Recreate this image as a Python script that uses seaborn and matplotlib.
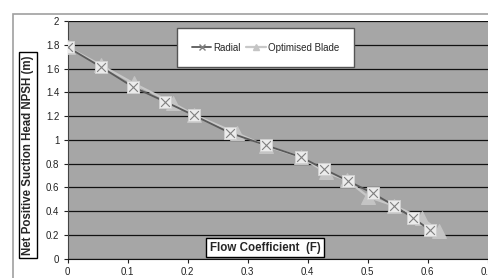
import matplotlib
matplotlib.use("Agg")
import matplotlib.pyplot as plt
from matplotlib.lines import Line2D
from matplotlib.patches import Rectangle
import seaborn as sns
import pandas as pd

radial_x = [0.0, 0.055, 0.109, 0.163, 0.211, 0.27, 0.33, 0.389, 0.428, 0.467, 0.509, 0.544, 0.575, 0.604]
radial_y = [1.78, 1.615, 1.445, 1.32, 1.205, 1.06, 0.955, 0.855, 0.752, 0.655, 0.55, 0.446, 0.345, 0.241]
blade_x = [0.0, 0.055, 0.11, 0.176, 0.211, 0.282, 0.33, 0.389, 0.43, 0.465, 0.501, 0.544, 0.59, 0.619]
blade_y = [1.78, 1.63, 1.475, 1.307, 1.21, 1.055, 0.95, 0.855, 0.727, 0.662, 0.52, 0.446, 0.34, 0.235]

radial = pd.DataFrame({"F": radial_x, "NPSH": radial_y})
blade = pd.DataFrame({"F": blade_x, "NPSH": blade_y})

sns.set_style("ticks")
plt.rcParams["font.family"] = ["Liberation Sans", "DejaVu Sans"]

fig = plt.figure(figsize=(4.89, 2.78), dpi=100)
ax = fig.add_axes([0.1384, 0.0694, 0.8616, 0.855])
ax.set_facecolor("#a6a6a6")

# outer chart frame (only top and left edges show)
fig.add_artist(Rectangle((13 / 489, -0.2), 1.2, (278 - 14) / 278 + 0.2,
                         transform=fig.transFigure, fill=False,
                         edgecolor="#a0a0a0", lw=1.2, zorder=0))

sns.lineplot(data=blade, x="F", y="NPSH", ax=ax, sort=False, estimator=None,
             color="#c8c8c8", lw=1.6, marker="^", markersize=10,
             markerfacecolor="#c4c4c4", markeredgecolor="#c4c4c4", zorder=3)
sns.lineplot(data=radial, x="F", y="NPSH", ax=ax, sort=False, estimator=None,
             color="#5a5a5a", lw=1.3, marker="s", markersize=8,
             markerfacecolor="#ececec", markeredgecolor="#d0d0d0", zorder=4)
sns.scatterplot(data=radial, x="F", y="NPSH", ax=ax, marker="x", s=40,
                color="#808080", linewidth=0.8, zorder=5)

ax.set_xlim(0, 0.7022)
ax.set_ylim(0, 2)
ax.set_xticks([0, 0.1, 0.2, 0.3, 0.4, 0.5, 0.6, 0.7])
ax.set_xticklabels(["0", "0.1", "0.2", "0.3", "0.4", "0.5", "0.6", "0.7"])
ax.set_yticks([0, 0.2, 0.4, 0.6, 0.8, 1, 1.2, 1.4, 1.6, 1.8, 2])
ax.set_yticklabels(["0", "0.2", "0.4", "0.6", "0.8", "1", "1.2", "1.4", "1.6", "1.8", "2"])
ax.tick_params(labelsize=7, length=3, width=0.8, colors="#222222", pad=3)
ax.yaxis.grid(True, color="#111111", lw=0.9)
ax.set_axisbelow(True)
for s in ["top", "right"]:
    ax.spines[s].set_visible(False)
ax.spines["left"].set_color("#444444")
ax.spines["bottom"].set_color("#111111")
ax.set_xlabel("")
ax.set_ylabel("")

box = dict(boxstyle="square,pad=0.3", fc="white", ec="black", lw=1)
fig.text(28 / 489, 1 - 155 / 278, "Net Positive Suction Head NPSH (m)",
         rotation=90, ha="center", va="center", fontsize=8.3, fontweight="bold", bbox=box)
fig.text(265 / 489, 1 - 247.5 / 278, "Flow Coefficient  (F)", fontsize=8.3,
         fontweight="bold", ha="center", va="center", bbox=box, zorder=6)

handles = [
    Line2D([], [], color="#5a5a5a", lw=1.3, marker="x", markersize=4,
           markeredgecolor="#808080"),
    Line2D([], [], color="#c8c8c8", lw=1.6, marker="^", markersize=5,
           markerfacecolor="#c4c4c4", markeredgecolor="#c4c4c4"),
]
leg = ax.legend(handles, ["Radial", "Optimised Blade"], loc="center",
                bbox_to_anchor=(0.4695, 0.8885), ncol=2, fontsize=7,
                frameon=True, fancybox=False, handlelength=2.0,
                handletextpad=0.2, columnspacing=0.6, borderpad=1.5)
leg.get_frame().set_edgecolor("#555555")
leg.get_frame().set_linewidth(1)
leg.get_frame().set_alpha(1)
leg.set_zorder(7)

fig.savefig("out.png", dpi=100)
